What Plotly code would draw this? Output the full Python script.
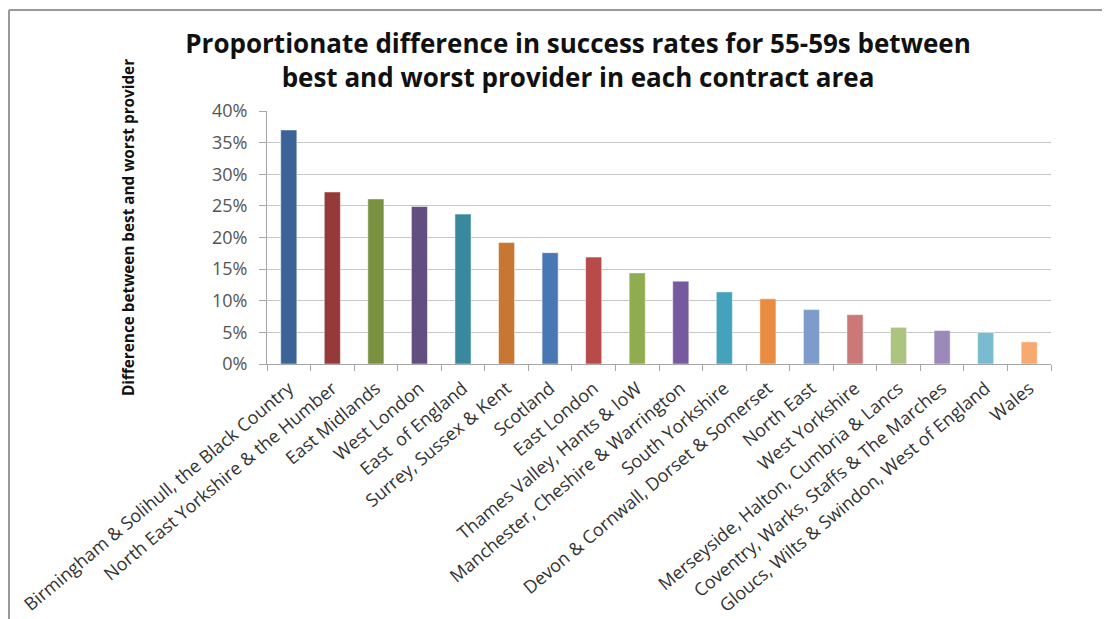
import plotly.graph_objects as go

categories = [
    "Birmingham & Solihull, the Black Country",
    "North East Yorkshire & the Humber",
    "East Midlands",
    "West London",
    "East  of England",
    "Surrey, Sussex & Kent",
    "Scotland",
    "East London",
    "Thames Valley, Hants & IoW",
    "Manchester, Cheshire & Warrington",
    "South Yorkshire",
    "Devon & Cornwall, Dorset & Somerset",
    "North East",
    "West Yorkshire",
    "Merseyside, Halton, Cumbria & Lancs",
    "Coventry, Warks, Staffs & The Marches",
    "Gloucs, Wilts & Swindon, West of England",
    "Wales",
]
values = [0.370, 0.272, 0.261, 0.249, 0.237, 0.192, 0.176, 0.169, 0.144,
          0.131, 0.114, 0.103, 0.086, 0.078, 0.058, 0.053, 0.050, 0.035]
colors = ["#3B6397", "#963A39", "#7A9140", "#634E80", "#38889E", "#C77633",
          "#4878B4", "#B84A48", "#8FAD4E", "#7759A0", "#44A2BC", "#EA8C40",
          "#7D9BCB", "#CB7878", "#ACC47F", "#9B89BA", "#79BCD0", "#F7A96F"]
y_ticks = [0, 0.05, 0.10, 0.15, 0.20, 0.25, 0.30, 0.35, 0.40]

FONT = "Open Sans"

fig = go.Figure(go.Bar(
    x=categories, y=values,
    marker=dict(color=colors, line=dict(color="rgba(255,255,255,0.5)", width=1)),
    width=0.37,
))

# page has an 8px body margin; figure coordinates below are page - 8
OFF = 8
W, H = 1110, 619
L, R, T, B = 267 - OFF, W - (1051 - OFF), 111 - OFF, H - (364 - OFF)
pw, ph = W - L - R, H - T - B

def px(x):
    return (x - OFF - L) / pw

def py(y):
    return (H - B - (y - OFF)) / ph

fig.update_layout(
    width=W, height=H,
    margin=dict(l=L, r=R, t=T, b=B, autoexpand=False),
    paper_bgcolor="white", plot_bgcolor="white",
    showlegend=False,
    font=dict(family=FONT, color="#404040"),
    title=dict(
        text="Proportionate difference in success rates for 55-59s between<br>best and worst provider in each contract area",
        x=(578 - OFF) / W, xref="container", xanchor="center",
        y=1 - (53 - OFF) / H, yref="container", yanchor="middle",
        font=dict(family=FONT, size=26, color="#111111", weight="bold"),
    ),
    xaxis=dict(
        tickangle=-40, tickfont=dict(size=18, color="#333333"),
        showline=True, linecolor="#a6a6a6", linewidth=1,
        ticks="outside", tickson="boundaries", ticklen=6, tickcolor="#a6a6a6",
        ticklabelstandoff=6,
        showgrid=False,
    ),
    yaxis=dict(
        range=[0, 0.40], tickvals=y_ticks, tickformat=".0%",
        tickfont=dict(size=18, color="#555555"),
        showline=True, linecolor="#a6a6a6", linewidth=1,
        ticks="outside", ticklen=7, tickcolor="#a6a6a6",
        ticklabelstandoff=8,
        showgrid=True, gridcolor="#c6c6c6", gridwidth=1,
        zeroline=False,
    ),
    annotations=[
        dict(text="<b>Difference between best and worst provider</b>",
             xref="paper", yref="paper", x=px(128), y=py(228),
             xanchor="center", yanchor="middle", textangle=-90, showarrow=False,
             font=dict(family=FONT, size=15.3, color="#111111")),
    ],
    shapes=[
        dict(type="line", xref="paper", yref="paper",
             x0=px(9), x1=px(9), y0=py(10), y1=py(H + 20), line=dict(color="#9a9a9a", width=2)),
        dict(type="line", xref="paper", yref="paper",
             x0=px(9), x1=px(W + 20), y0=py(10), y1=py(10), line=dict(color="#9a9a9a", width=2)),
    ],
)

fig.write_html("out.html")
